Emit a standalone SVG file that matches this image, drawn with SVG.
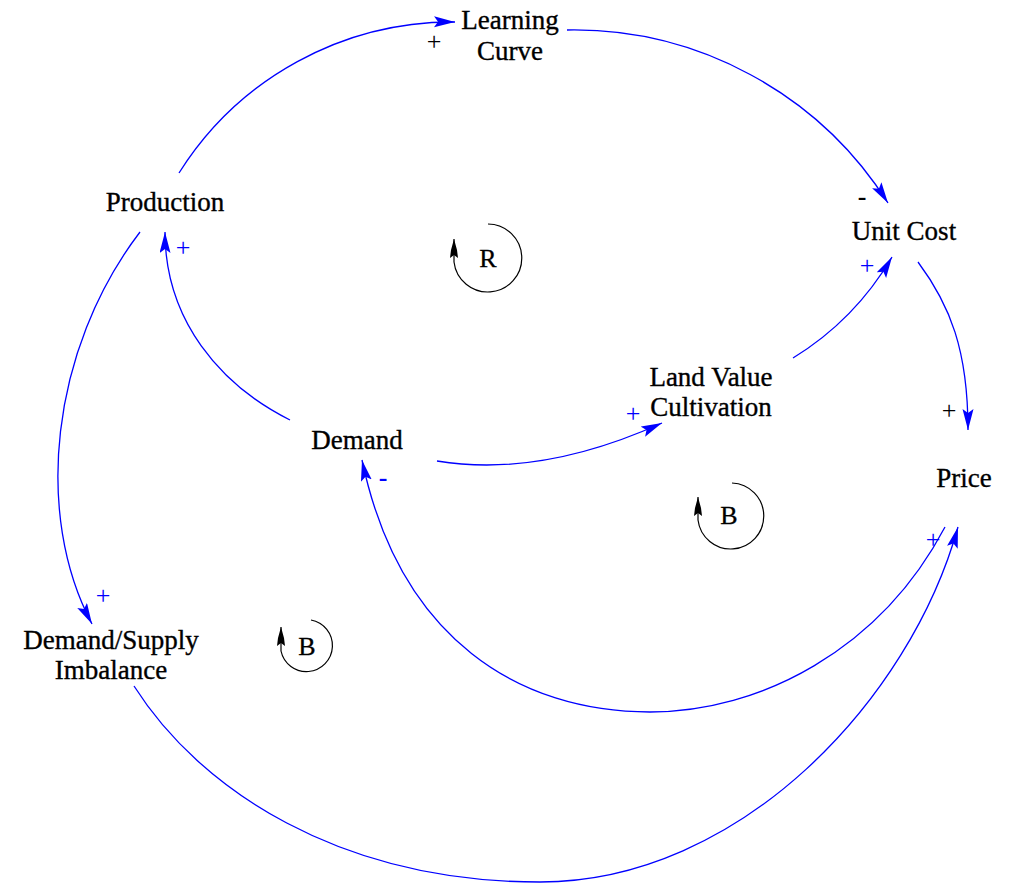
<svg xmlns="http://www.w3.org/2000/svg" width="1009" height="883" viewBox="0 0 1009 883">
  <style>
    .lbl { font-family: "Liberation Serif", "Times New Roman", serif; font-size: 27px; fill: #000; stroke: #000; stroke-width: 0.35; text-anchor: middle; }
    .loopl { font-family: "Liberation Serif", "Times New Roman", serif; font-size: 26px; fill: #000; stroke: #000; stroke-width: 0.3; text-anchor: middle; }
    .pol { font-family: "Liberation Serif", "Times New Roman", serif; font-size: 26px; text-anchor: middle; }
    .pb { fill: #0000ff; }
    .pk { fill: #000; }
    .dash { font-weight: bold; }
    .lnk { fill: none; stroke: #0000ff; stroke-width: 1.3; marker-end: url(#ah); }
    .loop { fill: none; stroke: #000; stroke-width: 1.2; marker-end: url(#lah); }
  </style>
  <defs>
    <marker id="ah" markerUnits="userSpaceOnUse" markerWidth="22" markerHeight="12" refX="21" refY="5.5" orient="auto">
      <path d="M0,0 L21,5.5 L0,11 L4,5.5 Z" fill="#0000ff"/>
    </marker>
    <marker id="lah" markerUnits="userSpaceOnUse" markerWidth="20" markerHeight="10" refX="19" refY="4.5" orient="auto">
      <path d="M0,0.5 L8,1.5 L19,4.5 L8,7.5 L0,8.5 L3,4.5 Z" fill="#000"/>
    </marker>
  </defs>

  <rect width="1009" height="883" fill="#fff"/>

  <!-- causal links -->
  <g id="connectors">
    <path class="lnk" d="M179,173 A323,323 0 0 1 455,22"/>
    <path class="lnk" d="M567,30 A372,372 0 0 1 888,203"/>
    <path class="lnk" d="M918,262 C950,305 968,350 968,430"/>
    <path class="lnk" d="M290,420 C220,385 165,320 165,232"/>
    <path class="lnk" d="M140,232 C50,350 34,515 92,624"/>
    <path class="lnk" d="M437,461 Q540,478 662,423"/>
    <path class="lnk" d="M793,358 Q855,320 892,257"/>
    <path class="lnk" d="M945,527 C880,650 760,712 650,712 C520,712 400,640 362,460"/>
    <path class="lnk" d="M134,686 C200,790 340,882 540,882 C740,882 910,700 958,527"/>
  </g>

  <!-- polarity signs -->
  <g id="polarities">
    <text class="pol pk" x="434" y="50">+</text>
    <text class="pol pk dash" x="862" y="205">-</text>
    <text class="pol pb" x="867" y="274">+</text>
    <text class="pol pb" x="183" y="256">+</text>
    <text class="pol pk" x="949" y="419">+</text>
    <text class="pol pb" x="633" y="422">+</text>
    <text class="pol pb dash" x="383" y="486">-</text>
    <text class="pol pb" x="933" y="548">+</text>
    <text class="pol pb" x="103" y="604">+</text>
  </g>

  <!-- variables -->
  <g id="learning-curve">
    <text class="lbl" x="510" y="29">Learning</text>
    <text class="lbl" x="510" y="60">Curve</text>
  </g>
  <g id="production">
    <text class="lbl" x="165" y="211">Production</text>
  </g>
  <g id="unit-cost">
    <text class="lbl" x="904" y="240">Unit Cost</text>
  </g>
  <g id="land-value-cultivation">
    <text class="lbl" x="711" y="386">Land Value</text>
    <text class="lbl" x="711" y="416">Cultivation</text>
  </g>
  <g id="demand">
    <text class="lbl" x="357" y="449">Demand</text>
  </g>
  <g id="price">
    <text class="lbl" x="964" y="487">Price</text>
  </g>
  <g id="demand-supply-imbalance">
    <text class="lbl" x="111" y="649">Demand/Supply</text>
    <text class="lbl" x="111" y="679">Imbalance</text>
  </g>

  <!-- loop identifiers -->
  <g id="loop-r">
    <path class="loop" d="M488,224 A34,34 0 1 1 454,262 L454,239"/>
    <text class="loopl" x="488" y="267">R</text>
  </g>
  <g id="loop-b1">
    <path class="loop" d="M732,483 A33,33 0 1 1 698,520 L698,497"/>
    <text class="loopl" x="729" y="524">B</text>
  </g>
  <g id="loop-b2">
    <path class="loop" d="M311,620 A26,26 0 1 1 281,651 L281,627"/>
    <text class="loopl" x="307" y="655">B</text>
  </g>
</svg>
